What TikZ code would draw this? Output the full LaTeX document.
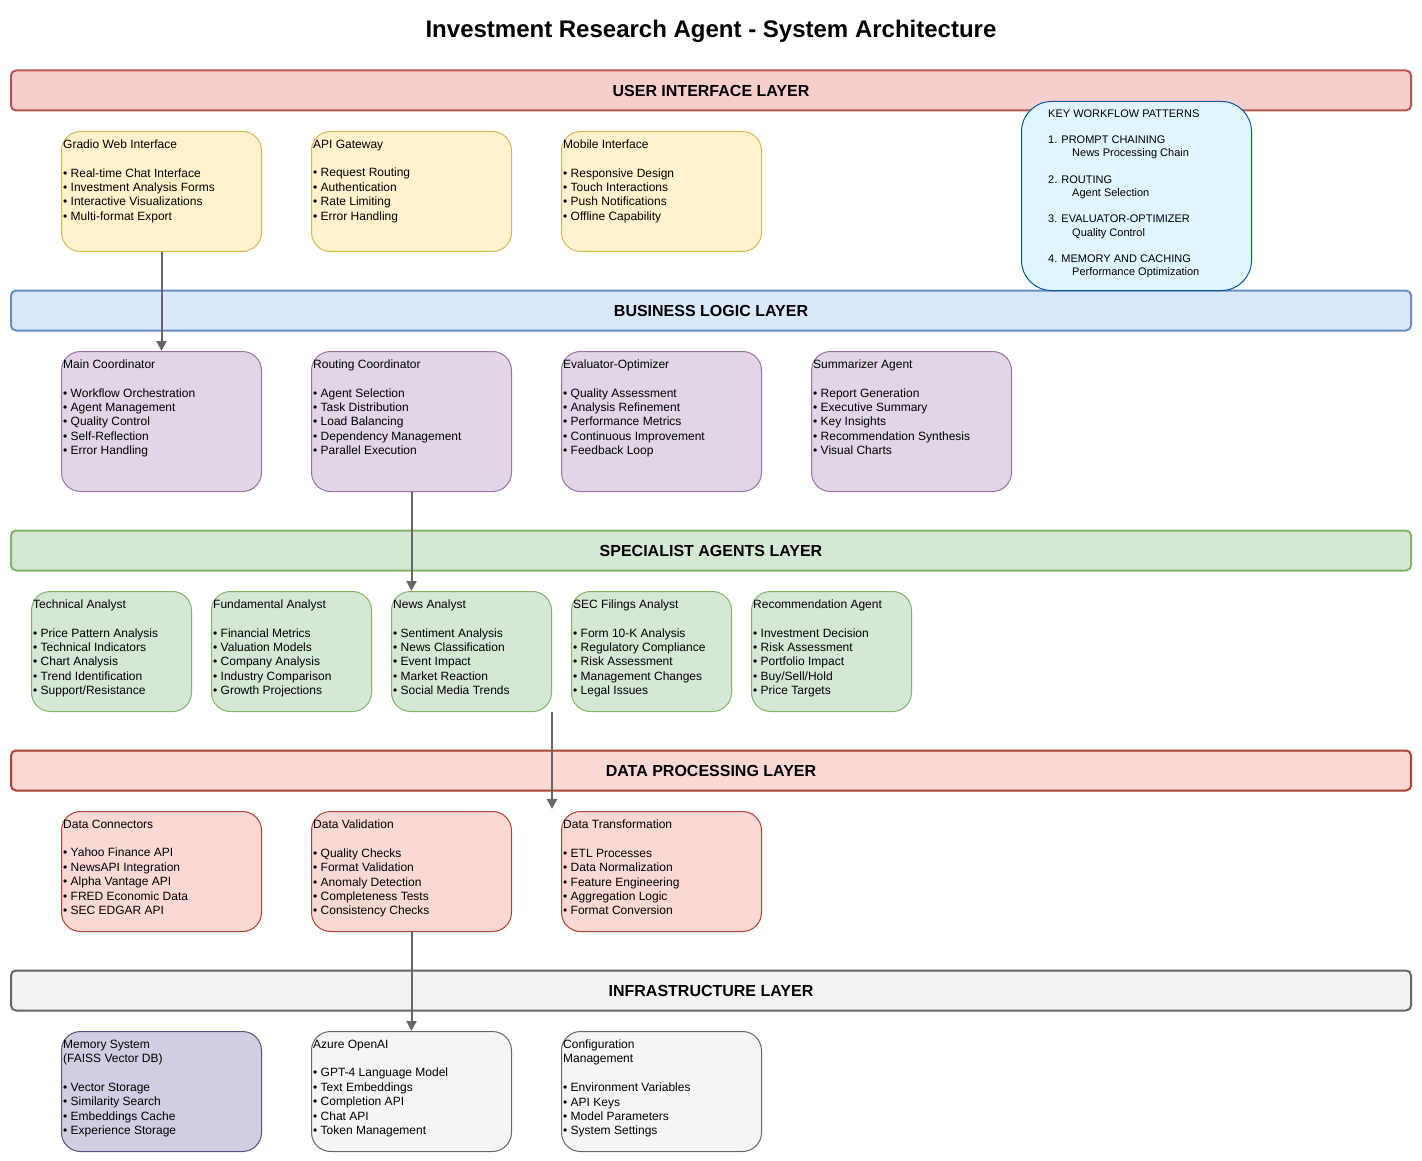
\documentclass[tikz,border=0pt]{standalone}
\usepackage{fontspec}
\setmainfont{Liberation Sans}
\usetikzlibrary{arrows.meta}
\definecolor{uiF}{HTML}{F8CECC}\definecolor{uiD}{HTML}{B85450}
\definecolor{blF}{HTML}{DAE8FC}\definecolor{blD}{HTML}{6C8EBF}
\definecolor{saF}{HTML}{D5E8D4}\definecolor{saD}{HTML}{82B366}
\definecolor{dpF}{HTML}{FAD9D5}\definecolor{dpD}{HTML}{AE4132}
\definecolor{infF}{HTML}{F2F2F2}\definecolor{infD}{HTML}{666666}
\definecolor{azF}{HTML}{F5F5F5}
\definecolor{ylF}{HTML}{FFF2CC}\definecolor{ylD}{HTML}{D6B656}
\definecolor{puF}{HTML}{E1D5E7}\definecolor{puD}{HTML}{9673A6}
\definecolor{memF}{HTML}{D0CEE2}\definecolor{memD}{HTML}{56517E}
\definecolor{keyF}{HTML}{E1F5FE}\definecolor{keyD}{HTML}{01579B}
\definecolor{arrowgray}{HTML}{666666}
\newcommand{\mkcard}[7]{%
  \node[card,#2,minimum width=#5pt,minimum height=#6pt] (#1) at (#3,#4) {};
  \node[txt] (#1t) at ([xshift=2pt,yshift=-8.5pt]#1.north west) {#7};}
\begin{document}
\begin{tikzpicture}[x=1pt,y=-1pt,
  layer/.style={draw, line width=2pt, rounded corners=5pt, minimum width=1400pt,
    minimum height=40pt, inner sep=0pt, font=\fontsize{16}{19.2}\selectfont\bfseries},
  card/.style={draw, line width=1pt, rounded corners=19pt, anchor=north west, inner sep=0pt},
  txt/.style={anchor=north west, inner sep=0pt, align=left,
    font=\fontsize{12}{14.4}\selectfont, execute at begin node=\strut},
  yl/.style={fill=ylF, draw=ylD},
  pu/.style={fill=puF, draw=puD},
  sa/.style={fill=saF, draw=saD},
  dp/.style={fill=dpF, draw=dpD},
  az/.style={fill=azF, draw=infD},
  mem/.style={fill=memF, draw=memD},
  conn/.style={draw=arrowgray, line width=2pt, -{Triangle[length=10pt,width=10pt]}}
]
\useasboundingbox (0,0) rectangle (1422,1161);

\node[font=\fontsize{24}{28.8}\selectfont\bfseries] (title) at (711,31.5) {Investment Research Agent - System Architecture};

% layer bars
\node[layer, fill=uiF, draw=uiD] (uil) at (711,90.5) {USER INTERFACE LAYER};
\node[layer, fill=blF, draw=blD] (bll) at (711,310.5) {BUSINESS LOGIC LAYER};
\node[layer, fill=saF, draw=saD] (sal) at (711,550.5) {SPECIALIST AGENTS LAYER};
\node[layer, fill=dpF, draw=dpD] (dpl) at (711,770.5) {DATA PROCESSING LAYER};
\node[layer, fill=infF, draw=infD] (infl) at (711,990.5) {INFRASTRUCTURE LAYER};

% UI layer
\mkcard{gradio}{yl}{61}{131}{200}{120}{Gradio Web Interface\\[14.4pt]• Real-time Chat Interface\\• Investment Analysis Forms\\• Interactive Visualizations\\• Multi-format Export}
\mkcard{apigw}{yl}{311}{131}{200}{120}{API Gateway\\[14.4pt]• Request Routing\\• Authentication\\• Rate Limiting\\• Error Handling}
\mkcard{mobile}{yl}{561}{131}{200}{120}{Mobile Interface\\[14.4pt]• Responsive Design\\• Touch Interactions\\• Push Notifications\\• Offline Capability}

% Key box
\node[draw=keyD, fill=keyF, line width=1pt, rounded corners=30pt, anchor=north west,
  minimum width=230pt, minimum height=189pt, inner sep=0pt] (key) at (1021,101) {};
\node[anchor=north west, inner sep=0pt, align=left, font=\fontsize{11}{13.2}\selectfont,
  execute at begin node=\strut] (keyt) at (1048,109.5)
  {KEY WORKFLOW PATTERNS\\[13.2pt]1. PROMPT CHAINING\\\hspace*{24pt}News Processing Chain\\[13.2pt]2. ROUTING\\\hspace*{24pt}Agent Selection\\[13.2pt]3. EVALUATOR-OPTIMIZER\\\hspace*{24pt}Quality Control\\[13.2pt]4. MEMORY AND CACHING\\\hspace*{24pt}Performance Optimization};

% Business logic layer
\mkcard{main}{pu}{61}{351}{200}{140}{Main Coordinator\\[14.4pt]• Workflow Orchestration\\• Agent Management\\• Quality Control\\• Self-Reflection\\• Error Handling}
\mkcard{routing}{pu}{311}{351}{200}{140}{Routing Coordinator\\[14.4pt]• Agent Selection\\• Task Distribution\\• Load Balancing\\• Dependency Management\\• Parallel Execution}
\mkcard{evalopt}{pu}{561}{351}{200}{140}{Evaluator-Optimizer\\[14.4pt]• Quality Assessment\\• Analysis Refinement\\• Performance Metrics\\• Continuous Improvement\\• Feedback Loop}
\mkcard{summ}{pu}{811}{351}{200}{140}{Summarizer Agent\\[14.4pt]• Report Generation\\• Executive Summary\\• Key Insights\\• Recommendation Synthesis\\• Visual Charts}

% Specialist agents layer
\mkcard{tech}{sa}{31}{591}{160}{120}{Technical Analyst\\[14.4pt]• Price Pattern Analysis\\• Technical Indicators\\• Chart Analysis\\• Trend Identification\\• Support/Resistance}
\mkcard{fund}{sa}{211}{591}{160}{120}{Fundamental Analyst\\[14.4pt]• Financial Metrics\\• Valuation Models\\• Company Analysis\\• Industry Comparison\\• Growth Projections}
\mkcard{news}{sa}{391}{591}{160}{120}{News Analyst\\[14.4pt]• Sentiment Analysis\\• News Classification\\• Event Impact\\• Market Reaction\\• Social Media Trends}
\mkcard{sec}{sa}{571}{591}{160}{120}{SEC Filings Analyst\\[14.4pt]• Form 10-K Analysis\\• Regulatory Compliance\\• Risk Assessment\\• Management Changes\\• Legal Issues}
\mkcard{reco}{sa}{751}{591}{160}{120}{Recommendation Agent\\[14.4pt]• Investment Decision\\• Risk Assessment\\• Portfolio Impact\\• Buy/Sell/Hold\\• Price Targets}

% Data processing layer
\mkcard{conn}{dp}{61}{811}{200}{120}{Data Connectors\\[14.4pt]• Yahoo Finance API\\• NewsAPI Integration\\• Alpha Vantage API\\• FRED Economic Data\\• SEC EDGAR API}
\mkcard{valid}{dp}{311}{811}{200}{120}{Data Validation\\[14.4pt]• Quality Checks\\• Format Validation\\• Anomaly Detection\\• Completeness Tests\\• Consistency Checks}
\mkcard{trans}{dp}{561}{811}{200}{120}{Data Transformation\\[14.4pt]• ETL Processes\\• Data Normalization\\• Feature Engineering\\• Aggregation Logic\\• Format Conversion}

% Infrastructure layer
\mkcard{memsys}{mem}{61}{1031}{200}{120}{Memory System\\(FAISS Vector DB)\\[14.4pt]• Vector Storage\\• Similarity Search\\• Embeddings Cache\\• Experience Storage}
\mkcard{azure}{az}{311}{1031}{200}{120}{Azure OpenAI\\[14.4pt]• GPT-4 Language Model\\• Text Embeddings\\• Completion API\\• Chat API\\• Token Management}
\mkcard{config}{az}{561}{1031}{200}{120}{Configuration\\Management\\[14.4pt]• Environment Variables\\• API Keys\\• Model Parameters\\• System Settings}

% connectors
\draw[conn] (gradio.south) -- (main.north);
\draw[conn] (routing.south) -- (routing.south |- news.north);
\draw[conn] (news.south east) -- ([yshift=2pt]news.south east |- trans.north);
\draw[conn] (valid.south) -- (azure.north);
\end{tikzpicture}
\end{document}
